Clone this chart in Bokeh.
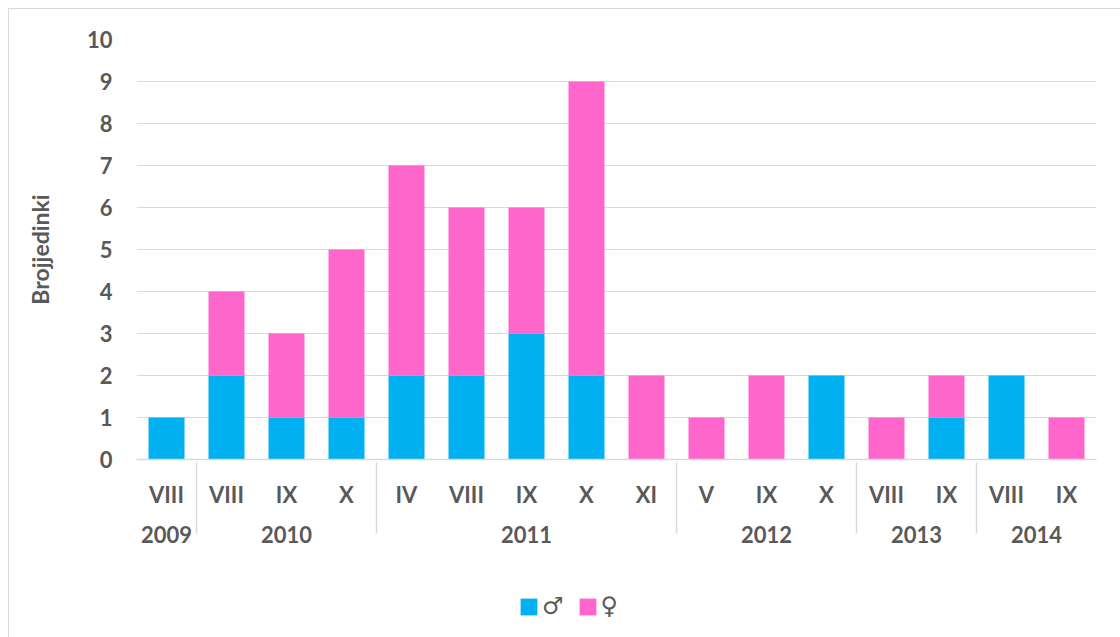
from bokeh.plotting import figure
from bokeh.layouts import column
from bokeh.models import FactorRange, ColumnDataSource, Legend, LegendItem, FixedTicker, Range1d
from bokeh.embed import file_html
from bokeh.resources import INLINE

years = ["2009", "2010", "2010", "2010", "2011", "2011", "2011", "2011", "2011",
         "2012", "2012", "2012", "2013", "2013", "2014", "2014"]
months = ["VIII", "VIII", "IX", "X", "IV", "VIII", "IX", "X", "XI",
          "V", "IX", "X", "VIII", "IX", "VIII", "IX"]
male = [1, 2, 1, 1, 2, 2, 3, 2, 0, 0, 0, 2, 0, 1, 2, 0]
female = [0, 2, 2, 4, 5, 4, 3, 7, 2, 1, 2, 0, 1, 1, 0, 1]
series_labels = ["♂", "♀"]
y_ticks = list(range(0, 11))

BLUE = "#00B0F0"
PINK = "#FF66CC"
TXT = "#595959"
GRID = "#D9D9D9"
FONT = "Lato"

factors = list(zip(years, months))
source = ColumnDataSource(dict(x=factors, male=male, female=female))

p = figure(
    x_range=FactorRange(*factors, factor_padding=0, group_padding=0, subgroup_padding=0, range_padding=0),
    y_range=Range1d(0, 10),
    width=1111, height=567,
    output_backend="svg", toolbar_location=None,
    min_border_left=127, min_border_right=24, min_border_top=30, min_border_bottom=117,
)

rs = p.vbar_stack(["male", "female"], x="x", width=0.6, color=[BLUE, PINK], source=source, line_color=None)

p.outline_line_color = None
p.xgrid.grid_line_color = None
p.ygrid.grid_line_color = GRID
p.ygrid.grid_line_width = 1
p.yaxis.ticker = FixedTicker(ticks=y_ticks)
p.yaxis.axis_line_color = None
p.yaxis.major_tick_line_color = None
p.yaxis.minor_tick_line_color = None
p.yaxis.major_label_text_font = FONT
p.yaxis.major_label_text_font_style = "bold"
p.yaxis.major_label_text_font_size = "22px"
p.yaxis.major_label_text_color = TXT
p.yaxis.major_label_standoff = 18
p.yaxis.axis_label = "Brojjedinki"
p.yaxis.axis_label_text_font = FONT
p.yaxis.axis_label_text_font_style = "bold"
p.yaxis.axis_label_text_font_size = "23px"
p.yaxis.axis_label_text_color = TXT
p.yaxis.axis_label_standoff = 30

xa = p.xaxis[0]
xa.axis_line_color = GRID
xa.axis_line_width = 1.5
xa.major_tick_line_color = None
xa.minor_tick_line_color = None
xa.major_label_text_font = FONT
xa.major_label_text_font_style = "bold"
xa.major_label_text_font_size = "22px"
xa.major_label_text_color = TXT
xa.major_label_standoff = 15
xa.group_text_font = FONT
xa.group_text_font_style = "bold"
xa.group_text_font_size = "22px"
xa.group_text_color = TXT
xa.separator_line_color = GRID
xa.separator_line_width = 1.5

# legend strip underneath the chart (its frame is aligned with the chart's frame)
lg = figure(width=1111, height=62, output_backend="svg", toolbar_location=None,
            x_axis_location=None, y_axis_location=None,
            x_range=Range1d(0, 1), y_range=Range1d(0, 1),
            min_border_left=0, min_border_right=0, min_border_top=0, min_border_bottom=0)
lg.outline_line_color = None
lg.grid.visible = False
# zero-height keys: they only supply the legend swatches
key_m = lg.vbar(x=[0.5], top=[0.5], bottom=[0.5], width=0.01, color=BLUE, line_color=None)
key_f = lg.vbar(x=[0.5], top=[0.5], bottom=[0.5], width=0.01, color=PINK, line_color=None)

legend = Legend(
    items=[LegendItem(label=series_labels[0], renderers=[key_m]),
           LegendItem(label=series_labels[1], renderers=[key_f])],
    orientation="horizontal",
    location=(382, 18),
    border_line_color=None,
    background_fill_alpha=0,
    glyph_width=21, glyph_height=21,
    label_text_font="DejaVu Sans", label_text_font_style="bold",
    label_text_font_size="24px", label_text_color=TXT,
    label_standoff=3, spacing=13, padding=4, margin=0,
)
lg.add_layout(legend, "center")

layout = column(p, lg, spacing=0,
                styles={"border-left": f"1px solid {GRID}", "border-top": f"1px solid {GRID}",
                        "margin-left": "8px", "margin-top": "8px"})

open("out.html", "w").write(file_html(layout, INLINE))
